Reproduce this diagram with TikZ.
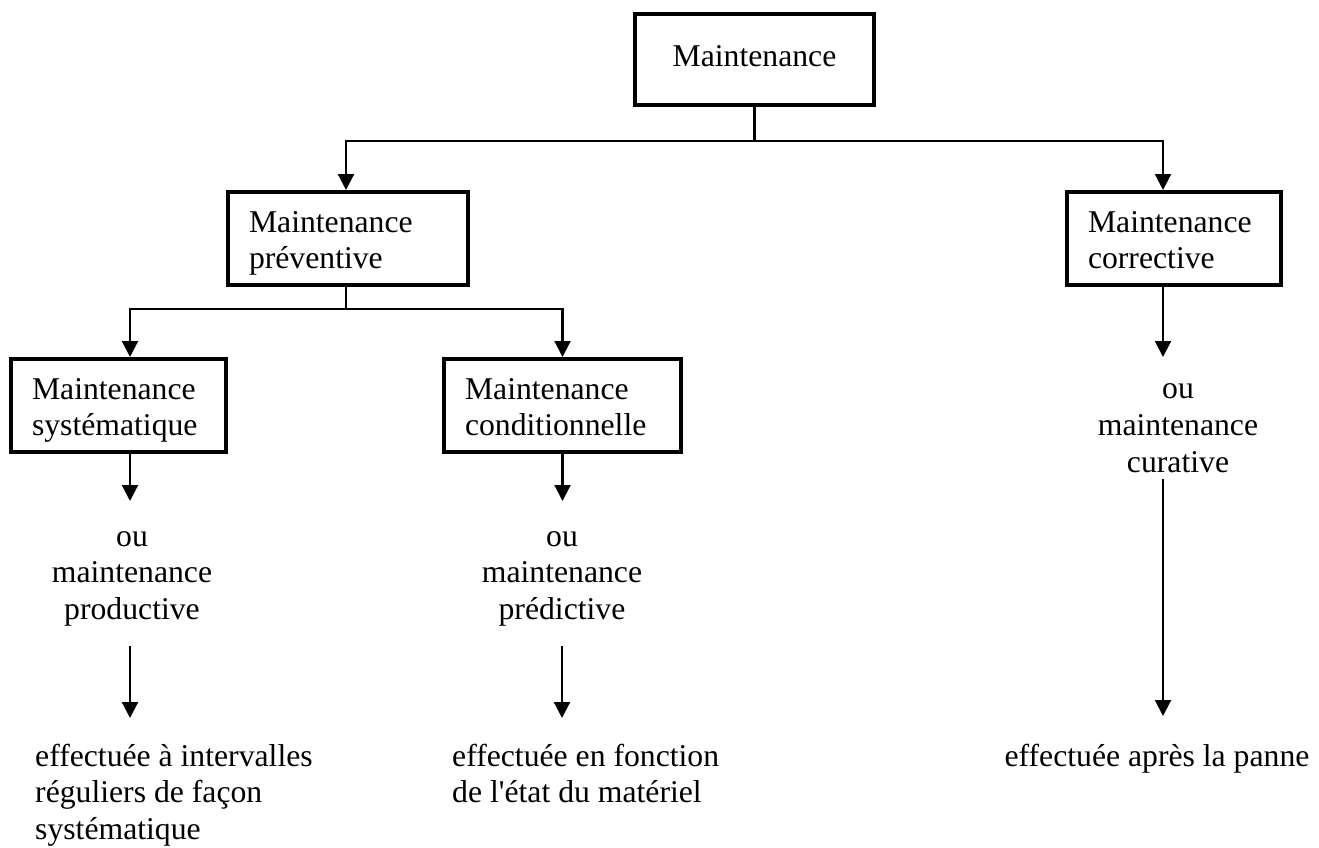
\documentclass[tikz,border=0pt]{standalone}
\usepackage{fontspec}
\newfontfamily\bodyfont{Liberation Serif}[Ligatures={TeXOff,CommonOff}]
\usetikzlibrary{arrows.meta}
\newcommand\tst{\rule{0pt}{31pt}}
\newcommand\bst{\rule[-7pt]{0pt}{7pt}}
\begin{document}
\begin{tikzpicture}[x=1pt,y=-1pt,
  txt/.style={font=\bodyfont\fontsize{31.7pt}{36.7pt}\selectfont, inner sep=0pt},
  box/.style={txt, draw, line width=3.8pt, inner xsep=21.1pt, align=left},
  lbl/.style={txt, align=center, anchor=north},
  ltxt/.style={txt, align=left, anchor=north west},
  conn/.style={line width=2.1pt},
  arr/.style={conn, -{Triangle[width=16pt,length=16pt]}}]
\useasboundingbox (0,0) rectangle (1319,847);

% boxes
\node[box, align=center, minimum width=239.2pt, minimum height=91.2pt, text height=21pt, text depth=7pt] (main) at (754.5,59.5) {Maintenance};
\node[box, minimum width=240.2pt, minimum height=93.2pt, text width=198pt] (prev) at (348,238.5) {\tst Maintenance\\préventive\bst};
\node[box, minimum width=214.2pt, minimum height=93.2pt, text width=172pt] (corr) at (1174,238.5) {\tst Maintenance\\corrective\bst};
\node[box, minimum width=215.2pt, minimum height=93.2pt, text width=173pt] (sys) at (118.5,405.5) {\tst Maintenance\\systématique\bst};
\node[box, minimum width=237.2pt, minimum height=93.2pt, text width=195pt] (cond) at (562.5,405.5) {\tst Maintenance\\conditionnelle\bst};

% top level connectors
\coordinate (j1) at (754.5,141);
\draw[conn] (main.south) -- (j1);
\draw[arr] (j1) -| ([xshift=-2pt]prev.north);
\draw[arr] (j1) -| ([xshift=-11pt]corr.north);

\coordinate (j2) at (346,309);
\draw[conn] ([xshift=-2pt]prev.south) -- (j2);
\draw[arr] (j2) -| ([xshift=11.5pt]sys.north);
\draw[arr] (j2) -| (cond.north);

% systematique branch
\node[lbl] (sysb) at (132,515) {\tst ou\\maintenance\\productive\bst};
\draw[arr, shorten >=14pt] ([xshift=11.5pt]sys.south) -- ([xshift=11.5pt]sys.south |- sysb.north);
\node[ltxt] (sysc) at (35,735) {\tst effectuée à intervalles\\réguliers de façon\\systématique};
\draw[arr, shorten <=19.6pt, shorten >=17pt] ([xshift=-2pt]sysb.south) -- ([xshift=-2pt]sysb.south |- sysc.north);

% conditionnelle branch
\node[lbl] (condb) at (562,515) {\tst ou\\maintenance\\prédictive\bst};
\draw[arr, shorten >=14pt] (cond.south) -- (cond.south |- condb.north);
\node[ltxt] (condc) at (452,735) {\tst effectuée en fonction\\de l'état du matériel};
\draw[arr, shorten <=19.6pt, shorten >=17pt] (condb.south) -- (condb.south |- condc.north);

% corrective branch
\node[lbl] (corrb) at (1178,367.5) {\tst ou\\maintenance\\curative\bst};
\draw[arr, shorten >=10.5pt] ([xshift=-11pt]corr.south) -- ([xshift=-11pt]corr.south |- corrb.north);
\node[lbl] (corrc) at (1157,735) {\tst effectuée après la panne};
\draw[arr, shorten >=19pt] ([xshift=-11pt]corr.south |- corrb.south) -- ([xshift=-11pt]corr.south |- corrc.north);
\end{tikzpicture}
\end{document}
